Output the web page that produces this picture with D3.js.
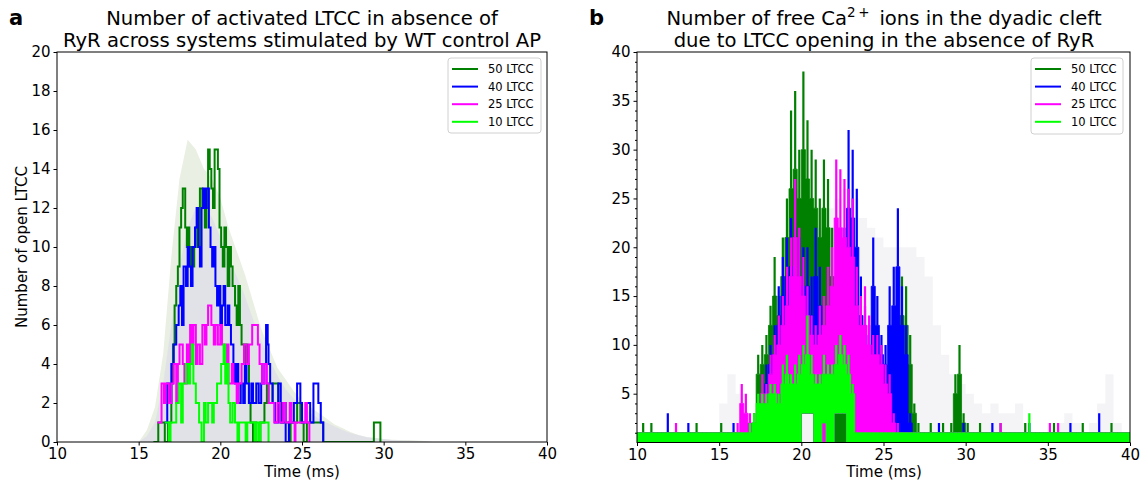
<!DOCTYPE html>
<html><head><meta charset="utf-8">
<script src="https://cdn.jsdelivr.net/npm/d3@7"></script>
<style>body{margin:0;background:#fff;} text{font-family:"DejaVu Sans",sans-serif;fill:#000;}</style>
</head><body><svg id="c" width="1142" height="485"></svg>
<script>
// ---------------- DATA ----------------
const seriesNames = ["50 LTCC", "40 LTCC", "25 LTCC", "10 LTCC"];
const seriesColors = ["#008000", "#0000ff", "#ff00ff", "#00ff00"];
const xTicks = [10, 15, 20, 25, 30, 35, 40];
const yTicksA = [0, 2, 4, 6, 8, 10, 12, 14, 16, 18, 20];
const yTicksB = [5, 10, 15, 20, 25, 30, 35, 40];

// Panel a: step traces (change times, values)
const a50_t = [15.9,16.2,16.6,16.8,17.0,17.1,17.2,17.3,17.4,17.5,17.6,17.7,17.85,17.95,18.05,18.1,18.2,18.3,18.4,18.5,18.65,18.75,18.9,19.05,19.15,19.25,19.35,19.45,19.55,19.65,19.85,19.95,20.05,20.15,20.25,20.35,20.45,20.55,20.65,20.75,20.9,21.0,21.1,21.2,21.3,21.45,21.55,21.65,21.75,21.85,22.0,22.1,22.2,22.45,22.7,22.85,22.95,23.2,23.55,23.75,24.2,24.3,24.7,24.9,25.1,25.3,25.7,26.3,29.4,29.8];
const a50_v = [0,1,0,1,3,5,7,8,9,11,12,13,11,10,11,9,10,9,10,11,10,13,12,11,12,15,14,13,12,15,14,11,10,9,11,10,8,10,9,8,7,6,8,6,5,4,5,4,2,1,0,1,0,1,2,3,2,3,2,1,0,1,2,1,0,1,1,0,1,0];
const a40_t = [16.6,16.75,16.85,17.0,17.15,17.3,17.45,17.55,17.65,17.75,17.9,18.0,18.1,18.2,18.3,18.45,18.55,18.65,18.75,18.85,18.95,19.05,19.15,19.3,19.4,19.5,19.6,19.7,19.8,19.9,20.0,20.1,20.2,20.3,20.45,20.55,20.65,20.8,20.9,21.0,21.1,21.25,21.4,21.5,21.6,21.75,21.9,22.0,22.2,22.35,22.5,22.7,22.8,22.9,22.95,23.05,23.2,23.35,23.55,23.7,23.85,24.0,24.2,24.5,24.7,24.9,25.0,25.25,25.5,25.7,26.0,26.15,26.3];
const a40_v = [1,3,2,4,5,6,7,8,6,9,8,10,9,8,10,11,12,10,9,12,13,12,13,11,10,9,10,8,7,8,6,7,8,6,7,6,5,4,3,4,2,3,2,4,3,2,3,2,3,2,3,4,6,5,4,3,2,1,3,1,2,0,1,2,3,2,1,2,1,3,2,1,0];
const a25_t = [16.15,16.4,16.55,16.65,16.85,17.0,17.15,17.3,17.4,17.5,17.7,17.8,17.95,18.05,18.15,18.25,18.35,18.5,18.6,18.75,18.9,19.05,19.15,19.25,19.45,19.6,19.7,19.85,20.0,20.1,20.25,20.4,20.5,20.7,20.8,21.0,21.1,21.3,21.45,21.6,21.75,21.95,22.3,22.4,22.55,22.7,22.85,22.95,23.3,23.5,23.65,23.85,24.0,24.25,24.35,24.55,24.6,25.2,25.3,25.45];
const a25_v = [1,3,2,3,2,3,4,2,4,5,4,3,5,4,6,5,6,4,5,4,6,5,6,7,6,5,6,5,6,5,4,5,3,4,3,2,3,4,5,4,5,6,5,4,3,4,3,2,1,2,1,2,1,2,1,0,1,2,1,0];
const a10_t = [16.6,16.85,16.95,17.3,17.45,17.6,17.7,17.9,18.05,18.15,18.25,18.35,18.5,18.7,18.85,19.0,19.1,19.25,19.5,19.6,19.8,20.05,20.2,20.3,20.4,20.5,20.6,20.75,20.9,21.05,21.15,21.55,21.65,22.1,22.2,22.35,22.45,22.95];
const a10_v = [1,0,1,2,3,1,3,4,3,4,5,3,2,1,0,2,1,2,1,2,3,4,5,3,4,2,1,2,1,0,1,0,1,0,1,0,1,0];

// Panel a: faint ensemble envelopes
const envA_t = [15,15.5,16,16.5,17,17.5,18,18.5,19,19.5,20,20.5,21,21.5,22,22.5,23,23.5,24,24.5,25,25.5,26,26.5,27,27.5,28,28.5,29,29.5,30,30.5,31,31.5,32,32.5,33];
const envA_outer = [0,0.6,1.8,4.5,9.5,13.5,15.5,15,14,13.5,12.5,11,9.8,8.6,7.2,5.8,4.8,3.8,3.2,2.6,2.1,1.8,1.5,1.2,0.9,0.7,0.5,0.35,0.25,0.2,0.15,0.12,0.1,0.1,0.08,0.05,0];
const envA_inner = [0,0.3,1,3,6,9,11,12,12,11.5,10.5,9.5,8.5,7.5,6.3,5.2,4.2,3.4,2.7,2.2,1.8,1.5,1.2,1,0.8,0.6,0.45,0.35,0.25,0.2,0.15,0.1,0.08,0.06,0.05,0.03,0];

// Panel b: free Ca2+ count in 0.25 ms bins from 10 ms
// peak (U), dense body level (B) and floor (L); rows of 20 bins: 10-15, 15-20, 20-25, 25-30, 30-35, 35-40 ms
const binStartB = 10, binWidthB = 0.25;
const cU50 = [
  1,2,1,2,1,1,1,1,1,1, 1,1,1,1,2,1,1,1,1,1,
  2,1,1,1,1,1,2,1,3,9, 10,11,14,19,15,21,25,34,36,30,
  38,33,30,29,25,29,27,22,15,10, 8,6,13,17,12,8,6,5,4,3,
  4,8,11,14,17,16,11,4,2,1, 1,2,1,1,2,1,2,7,10,3,
  2,1,1,2,1,1,1,1,2,1, 1,1,1,1,2,1,1,1,1,1,
  1,2,1,1,1,1,1,1,2,1, 1,1,1,1,1,2,1,1,1,1];
const cU40 = [
  1,1,1,1,1,1,1,3,1,1, 1,1,2,1,1,1,1,1,1,1,
  1,1,1,2,1,1,1,2,2,3, 5,8,10,12,16,19,21,23,22,21,
  20,20,17,22,18,14,13,12,15,18, 22,32,30,26,17,14,12,21,15,11,
  10,16,18,24,16,12,3,1,1,1, 1,1,1,2,1,1,1,1,1,2,
  1,1,1,1,1,1,2,1,1,1, 1,1,1,1,1,2,1,1,1,1,
  1,1,1,1,1,2,1,1,1,1, 1,1,3,1,1,1,1,1,1,1];
const cU25 = [
  1,1,1,1,1,1,1,1,1,2, 1,1,1,1,1,1,1,1,1,1,
  1,1,1,1,2,6,5,3,2,4, 7,6,9,11,13,15,18,21,27,22,
  19,16,13,12,14,15,18,20,29,28, 27,26,25,18,15,16,13,11,11,10,
  8,7,3,2,1,1,1,1,1,1, 1,1,1,1,1,1,1,1,1,1,
  1,1,1,1,1,1,1,1,2,1, 1,1,1,1,1,1,1,1,1,1,
  2,1,2,1,1,1,1,1,1,1, 1,1,1,1,1,1,1,1,1,1];
const cU10 = [
  1,1,1,1,1,1,1,1,1,1, 1,1,1,1,1,1,1,1,1,1,
  1,1,1,1,1,1,1,2,3,5, 5,5,6,6,5,8,9,7,8,9,
  10,13,9,7,7,9,8,8,10,11, 10,9,6,1,1,1,1,1,1,1,
  1,1,1,1,1,1,1,1,1,1, 1,1,1,1,1,1,1,1,1,1,
  1,1,1,1,1,1,1,1,1,1, 1,1,1,1,1,3,1,1,1,1,
  1,1,1,1,1,1,1,1,1,1, 1,1,1,1,1,1,1,1,1,1];
const cB50 = [
  1,1,1,1,1,1,1,1,1,1, 1,1,1,1,1,1,1,1,1,1,
  1,1,1,1,1,1,1,1,2,7, 8,9,12,15,13,17,21,26,28,25,
  30,27,25,24,21,24,22,17,12,8, 6,5,10,13,9,6,5,4,3,2,
  3,6,9,11,13,12,8,3,1,1, 1,1,1,1,1,1,1,5,7,2,
  1,1,1,1,1,1,1,1,1,1, 1,1,1,1,1,1,1,1,1,1,
  1,1,1,1,1,1,1,1,1,1, 1,1,1,1,1,1,1,1,1,1];
const cB40 = [
  1,1,1,1,1,1,1,1,1,1, 1,1,1,1,1,1,1,1,1,1,
  1,1,1,1,1,1,1,1,1,2, 4,6,8,9,12,15,17,18,17,16,
  16,16,13,17,14,11,10,9,12,14, 18,24,23,20,13,11,9,16,12,9,
  8,12,14,18,12,9,2,1,1,1, 1,1,1,1,1,1,1,1,1,1,
  1,1,1,1,1,1,1,1,1,1, 1,1,1,1,1,1,1,1,1,1,
  1,1,1,1,1,1,1,1,1,1, 1,1,1,1,1,1,1,1,1,1];
const cB25 = [
  1,1,1,1,1,1,1,1,1,1, 1,1,1,1,1,1,1,1,1,1,
  1,1,1,1,1,4,3,2,1,3, 5,5,7,9,10,12,14,17,21,17,
  15,13,11,10,11,12,14,16,23,22, 21,20,19,14,12,12,10,9,9,8,
  6,5,2,1,1,1,1,1,1,1, 1,1,1,1,1,1,1,1,1,1,
  1,1,1,1,1,1,1,1,1,1, 1,1,1,1,1,1,1,1,1,1,
  1,1,1,1,1,1,1,1,1,1, 1,1,1,1,1,1,1,1,1,1];
const cB10 = [
  1,1,1,1,1,1,1,1,1,1, 1,1,1,1,1,1,1,1,1,1,
  1,1,1,1,1,1,1,1,2,4, 4,4,5,5,4,6,7,6,6,7,
  8,9,7,6,6,7,7,7,8,9, 8,7,5,1,1,1,1,1,1,1,
  1,1,1,1,1,1,1,1,1,1, 1,1,1,1,1,1,1,1,1,1,
  1,1,1,1,1,1,1,1,1,1, 1,1,1,1,1,1,1,1,1,1,
  1,1,1,1,1,1,1,1,1,1, 1,1,1,1,1,1,1,1,1,1];
const cL50 = [
  0,0,0,0,0,0,0,0,0,0, 0,0,0,0,0,0,0,0,0,0,
  0,0,0,0,0,0,0,0,0,0, 0,0,0,0,0,0,0,0,0,0,
  3,3,3,0,0,0,0,0,0,0, 0,0,0,0,0,0,0,0,0,0,
  0,0,0,0,0,0,0,0,0,0, 0,0,0,0,0,0,0,0,0,0,
  0,0,0,0,0,0,0,0,0,0, 0,0,0,0,0,0,0,0,0,0,
  0,0,0,0,0,0,0,0,0,0, 0,0,0,0,0,0,0,0,0,0];
const cL40 = [
  0,0,0,0,0,0,0,0,0,0, 0,0,0,0,0,0,0,0,0,0,
  0,0,0,0,0,0,0,0,0,0, 0,0,0,0,0,0,0,0,0,0,
  3,3,3,0,0,0,0,0,3,3, 3,0,0,0,0,0,0,0,0,0,
  0,0,0,0,0,0,0,0,0,0, 0,0,0,0,0,0,0,0,0,0,
  0,0,0,0,0,0,0,0,0,0, 0,0,0,0,0,0,0,0,0,0,
  0,0,0,0,0,0,0,0,0,0, 0,0,0,0,0,0,0,0,0,0];
const cL25 = [
  0,0,0,0,0,0,0,0,0,0, 0,0,0,0,0,0,0,0,0,0,
  0,0,0,0,0,0,0,0,0,0, 0,0,0,0,0,0,0,0,0,0,
  3,3,3,0,0,0,0,0,3,3, 3,0,0,0,0,0,0,0,0,0,
  0,0,0,0,0,0,0,0,0,0, 0,0,0,0,0,0,0,0,0,0,
  0,0,0,0,0,0,0,0,0,0, 0,0,0,0,0,0,0,0,0,0,
  0,0,0,0,0,0,0,0,0,0, 0,0,0,0,0,0,0,0,0,0];
const cL10 = [
  0,0,0,0,0,0,0,0,0,0, 0,0,0,0,0,0,0,0,0,0,
  0,0,0,0,0,0,0,0,0,0, 0,0,0,0,0,0,0,0,0,0,
  3,3,3,0,0,2,0,0,3,3, 3,0,0,0,0,0,0,0,0,0,
  0,0,0,0,0,0,0,0,0,0, 0,0,0,0,0,0,0,0,0,0,
  0,0,0,0,0,0,0,0,0,0, 0,0,0,0,0,0,0,0,0,0,
  0,0,0,0,0,0,0,0,0,0, 0,0,0,0,0,0,0,0,0,0];

// Panel b: faint ensemble background
const envB_t = [10,10.5,11,11.5,12,12.5,13,13.5,14,14.5,15,15.5,16,16.5,17,17.5,18,18.5,19,19.5,20,20.5,21,21.5,22,22.5,23,23.5,24,24.5,25,25.5,26,26.5,27,27.5,28,28.5,29,29.5,30,30.5,31,31.5,32,32.5,33,33.5,34,34.5,35,35.5,36,36.5,37,37.5,38,38.5,39,39.5,40];
const envB_v = [0,0,0,0,0,0,0,0,0,0,4,7,5,3,3,4,8,12,15,18,20,22,22,24,25,26,25,23,22,21,20,20,20,20,19,17,12,9,7,6,5,4,3,4,3,3,4,2,1,1,1,2,3,2,1,2,4,7,2,1,0];

// ---------------- DRAW ----------------
const svg = d3.select("#c");
const FONT = '"DejaVu Sans", sans-serif';

function frame(g, x, y) {
  const [x0, x1] = x.range(), [y0, y1] = y.range();
  g.append("rect").attr("x", x0).attr("y", y1).attr("width", x1 - x0).attr("height", y0 - y1)
    .attr("fill", "none").attr("stroke", "#000").attr("stroke-width", 1);
}

function legend(g, x0, y0, w, h) {
  g.append("rect").attr("x", x0).attr("y", y0).attr("width", w).attr("height", h)
    .attr("rx", 3).attr("fill", "rgba(255,255,255,0.8)").attr("stroke", "#d0d0d0").attr("stroke-width", 1);
  seriesNames.forEach((n, i) => {
    const yy = y0 + 11 + i * 17.6;
    g.append("line").attr("x1", x0 + 4).attr("x2", x0 + 30).attr("y1", yy).attr("y2", yy)
      .attr("stroke", seriesColors[i]).attr("stroke-width", 2);
    g.append("text").attr("x", x0 + 40).attr("y", yy + 4.2).attr("font-size", 11.5).text(n);
  });
}

function styleAxis(a) {
  a.select(".domain").remove();
  a.selectAll("text").attr("font-size", 15).attr("font-family", FONT).attr("fill", "#000");
  a.selectAll("line").attr("stroke", "#000");
}

// ---------- Panel a ----------
{
  const x = d3.scaleLinear().domain([10, 40]).range([57, 547]);
  const y = d3.scaleLinear().domain([0, 20]).range([442, 52]);
  const g = svg.append("g");
  g.append("clipPath").attr("id", "clipA").append("rect").attr("x", 57).attr("y", 52).attr("width", 490).attr("height", 390);
  const pg = g.append("g").attr("clip-path", "url(#clipA)");

  const area = (vals) => d3.area().x((d, i) => x(envA_t[i])).y0(y(0)).y1((d) => y(d))(vals);
  pg.append("path").attr("d", area(envA_outer)).attr("fill", "#e9efe3");
  pg.append("path").attr("d", area(envA_inner)).attr("fill", "#dedde9").attr("opacity", 0.75);

  const traces = [[a50_t, a50_v], [a40_t, a40_v], [a25_t, a25_v], [a10_t, a10_v]];
  const line = d3.line().curve(d3.curveStepAfter).x(d => x(d[0])).y(d => y(d[1]));
  traces.forEach((tr, k) => {
    const pts = tr[0].map((t, i) => [t, tr[1][i]]);
    pg.append("path").attr("d", line(pts)).attr("fill", "none")
      .attr("stroke", seriesColors[k]).attr("stroke-width", 2).attr("stroke-linejoin", "miter");
  });

  const xa = g.append("g").attr("transform", "translate(0,442)")
    .call(d3.axisBottom(x).tickValues(xTicks).tickSize(3.5).tickPadding(3).tickFormat(d3.format("d")));
  const ya = g.append("g").attr("transform", "translate(57,0)")
    .call(d3.axisLeft(y).tickValues(yTicksA).tickSize(3.5).tickPadding(3).tickFormat(d3.format("d")));
  styleAxis(xa); styleAxis(ya);
  frame(g, x, y);

  g.append("text").attr("x", 302).attr("y", 477).attr("text-anchor", "middle").attr("font-size", 15).text("Time (ms)");
  g.append("text").attr("transform", "translate(27,247) rotate(-90)").attr("text-anchor", "middle").attr("font-size", 15).text("Number of open LTCC");
  g.append("text").attr("x", 302).attr("y", 25).attr("text-anchor", "middle").attr("font-size", 19.6).text("Number of activated LTCC in absence of");
  g.append("text").attr("x", 302).attr("y", 47).attr("text-anchor", "middle").attr("font-size", 19.6).text("RyR across systems stimulated by WT control AP");
  g.append("text").attr("x", 9).attr("y", 25).attr("font-size", 21).attr("font-weight", "bold").text("a");
  legend(g, 448, 58, 93, 75);
}

// ---------- Panel b ----------
{
  const x = d3.scaleLinear().domain([10, 40]).range([637, 1130]);
  const y = d3.scaleLinear().domain([0, 40]).range([442.5, 52]);
  const g = svg.append("g");
  g.append("clipPath").attr("id", "clipB").append("rect").attr("x", 637).attr("y", 52).attr("width", 493).attr("height", 390.5);
  const pg = g.append("g").attr("clip-path", "url(#clipB)");

  pg.append("path").attr("d", d3.area().curve(d3.curveStepAfter).x((d, i) => x(envB_t[i])).y0(y(0)).y1(d => y(d))(envB_v))
    .attr("fill", "rgba(200,200,215,0.2)");

  const peaks = [cU50, cU40, cU25, cU10];
  const bodies = [cB50, cB40, cB25, cB10];
  const floors = [cL50, cL40, cL25, cL10];
  peaks.forEach((U, k) => {
    const B = bodies[k], L = floors[k];
    const pts = B.map((b, i) => ({ t: binStartB + i * binWidthB, b: b, l: L[i] }));
    pts.push({ t: binStartB + B.length * binWidthB, b: B[B.length - 1], l: L[L.length - 1] });
    pg.append("path").attr("d", d3.area().curve(d3.curveStepAfter).x(d => x(d.t)).y0(d => y(d.l)).y1(d => y(d.b))(pts))
      .attr("fill", seriesColors[k]).attr("stroke", seriesColors[k]).attr("stroke-width", 0.8);
    const spikes = U.map((u, i) => ({ t: binStartB + (i + 0.5) * binWidthB, u: u, b: B[i] })).filter(d => d.u > d.b);
    pg.selectAll(null).data(spikes).enter().append("line")
      .attr("x1", d => x(d.t)).attr("x2", d => x(d.t))
      .attr("y1", d => y(d.b)).attr("y2", d => y(d.u))
      .attr("stroke", seriesColors[k]).attr("stroke-width", 2.2);
  });

  const xa = g.append("g").attr("transform", "translate(0,442.5)")
    .call(d3.axisBottom(x).tickValues(xTicks).tickSize(3.5).tickPadding(3).tickFormat(d3.format("d")));
  const ya = g.append("g").attr("transform", "translate(637,0)")
    .call(d3.axisLeft(y).tickValues(yTicksB).tickSize(3.5).tickPadding(3).tickFormat(d3.format("d")));
  const minor = g.append("g").attr("transform", "translate(637,0)")
    .call(d3.axisLeft(y).tickValues(d3.range(1, 40).filter(v => v % 5 !== 0)).tickSize(2).tickFormat(""));
  minor.select(".domain").remove(); minor.selectAll("line").attr("stroke", "#000");
  styleAxis(xa); styleAxis(ya);
  frame(g, x, y);

  g.append("text").attr("x", 884).attr("y", 477).attr("text-anchor", "middle").attr("font-size", 15).text("Time (ms)");
  const t1 = g.append("text").attr("x", 884).attr("y", 25).attr("text-anchor", "middle").attr("font-size", 19.6);
  t1.append("tspan").text("Number of free Ca");
  t1.append("tspan").attr("dy", -8).attr("font-size", 13.5).text("2\u2009+");
  t1.append("tspan").attr("dy", 8).text("\u2002ions in the dyadic cleft");
  g.append("text").attr("x", 884).attr("y", 47).attr("text-anchor", "middle").attr("font-size", 19.6).text("due to LTCC opening in the absence of RyR");
  g.append("text").attr("x", 589).attr("y", 25).attr("font-size", 21).attr("font-weight", "bold").text("b");
  legend(g, 1031, 58, 92, 76);
}
</script></body></html>
